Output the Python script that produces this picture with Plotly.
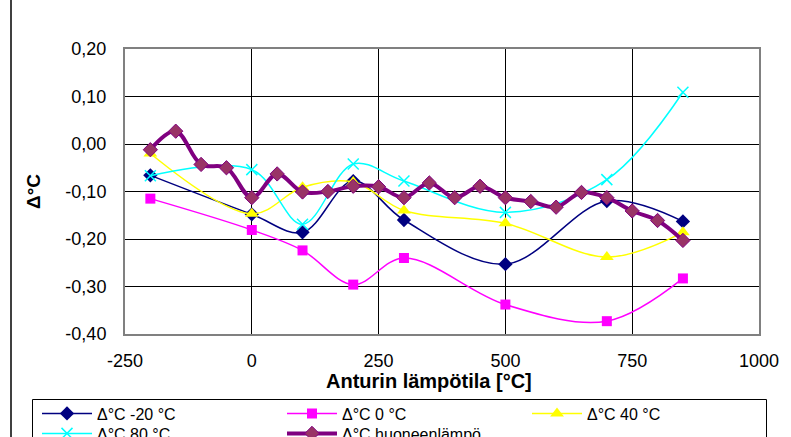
import plotly.graph_objects as go

x_main = [-200, 0, 100, 200, 300, 500, 700, 850]
y_m20 = [-0.066, -0.148, -0.186, -0.078, -0.160, -0.253, -0.120, -0.163]
y_0 = [-0.115, -0.181, -0.224, -0.296, -0.240, -0.338, -0.373, -0.283]
y_40 = [-0.020, -0.147, -0.091, -0.080, -0.140, -0.167, -0.238, -0.186]
y_80 = [-0.067, -0.054, -0.169, -0.042, -0.078, -0.144, -0.075, 0.109]

x_room = [-200, -150, -100, -50, 0, 50, 100, 150, 200, 250, 300, 350, 400,
          450, 500, 550, 600, 650, 700, 750, 800, 850]
y_room = [-0.012, 0.027, -0.043, -0.050, -0.113, -0.063, -0.101, -0.100,
          -0.089, -0.090, -0.113, -0.082, -0.113, -0.089, -0.113, -0.121,
          -0.133, -0.102, -0.113, -0.141, -0.161, -0.203]

series_names = ["Δ°C -20 °C", "Δ°C 0 °C", "Δ°C 40 °C", "Δ°C 80 °C", "Δ°C huoneenlämpö"]

x_ticks = [-250, 0, 250, 500, 750, 1000]
x_tick_labels = ["-250", "0", "250", "500", "750", "1000"]
y_ticks = [-0.4, -0.3, -0.2, -0.1, 0.0, 0.1, 0.2]
y_tick_labels = ["-0,40", "-0,30", "-0,20", "-0,10", "0,00", "0,10", "0,20"]
x_title = "Anturin lämpötila [°C]"
y_title = "Δ°C"

FONT = "Liberation Sans, Arial, sans-serif"

fig = go.Figure()
fig.add_trace(go.Scatter(x=x_main, y=y_m20, name=series_names[0], mode="lines+markers",
                         legend="legend",
                         line=dict(color="#000080", width=1.5, shape="spline"),
                         marker=dict(symbol="diamond", size=11, color="#000080")))
fig.add_trace(go.Scatter(x=x_main, y=y_0, name=series_names[1], mode="lines+markers",
                         legend="legend",
                         line=dict(color="#FF00FF", width=1.5, shape="spline"),
                         marker=dict(symbol="square", size=10, color="#FF00FF")))
fig.add_trace(go.Scatter(x=x_main, y=y_40, name=series_names[2], mode="lines+markers",
                         legend="legend",
                         line=dict(color="#FFFF00", width=1.5, shape="spline"),
                         marker=dict(symbol="triangle-up", size=12, color="#FFFF00")))
fig.add_trace(go.Scatter(x=x_main, y=y_80, name=series_names[3], mode="lines+markers",
                         legend="legend2",
                         line=dict(color="#00FFFF", width=1.5, shape="spline"),
                         marker=dict(symbol="x-thin", size=11,
                                     line=dict(color="#00FFFF", width=1.5))))
fig.add_trace(go.Scatter(x=x_room, y=y_room, name=series_names[4], mode="lines+markers",
                         legend="legend2",
                         line=dict(color="#800080", width=4, shape="spline"),
                         marker=dict(symbol="diamond", size=11, color="#993366",
                                     line=dict(color="#800080", width=1))))

W, H = 791, 437
ml, mr, mt, mb = 125, 32, 49, 103
pw, ph = W - ml - mr, H - mt - mb

def px_x(px):
    return (px - ml) / pw

def px_y(py):
    return (H - mb - py) / ph

legend_common = dict(orientation="h", xanchor="left", yanchor="top",
                     borderwidth=0, bgcolor="rgba(0,0,0,0)",
                     font=dict(family=FONT, size=16, color="black"),
                     itemwidth=50, entrywidth=180, entrywidthmode="pixels",
                     tracegroupgap=0, traceorder="normal")

fig.update_layout(
    width=W, height=H,
    margin=dict(l=ml, r=mr, t=mt, b=mb, autoexpand=False),
    paper_bgcolor="white", plot_bgcolor="white",
    font=dict(family=FONT, size=18, color="black"),
    showlegend=True,
    legend=dict(x=px_x(37), y=px_y(396.5), **legend_common),
    legend2=dict(x=px_x(37), y=px_y(416.5), **legend_common),
    shapes=[dict(type="line", xref="paper", yref="paper",
                 x0=px_x(11), x1=px_x(11), y0=px_y(0), y1=px_y(437),
                 line=dict(color="#404040", width=2)),
            dict(type="rect", xref="paper", yref="paper", layer="below",
                 x0=px_x(32.5), x1=px_x(766.5), y0=px_y(399.5), y1=px_y(450),
                 line=dict(color="black", width=1), fillcolor="white")],
    annotations=[dict(text="<b>" + x_title + "</b>", xref="paper", yref="paper",
                      x=px_x(429), y=px_y(380.5), xanchor="center", yanchor="middle",
                      showarrow=False, font=dict(family=FONT, size=20, color="black"))],
)
fig.update_xaxes(range=[-250, 1000], tickvals=x_ticks, ticktext=x_tick_labels,
                 showgrid=True, gridcolor="black", gridwidth=1, zeroline=False,
                 showline=True, linecolor="#808080", linewidth=2, mirror=True,
                 ticks="", ticklabelstandoff=9)
fig.update_yaxes(range=[-0.4, 0.2], tickvals=y_ticks, ticktext=y_tick_labels,
                 showgrid=True, gridcolor="black", gridwidth=1, zeroline=False,
                 showline=True, linecolor="#808080", linewidth=2, mirror=True,
                 ticks="", ticklabelstandoff=13,
                 title=dict(text="<b>" + y_title + "</b>", standoff=20,
                            font=dict(family=FONT, size=19)))

fig.write_html("out.html")
